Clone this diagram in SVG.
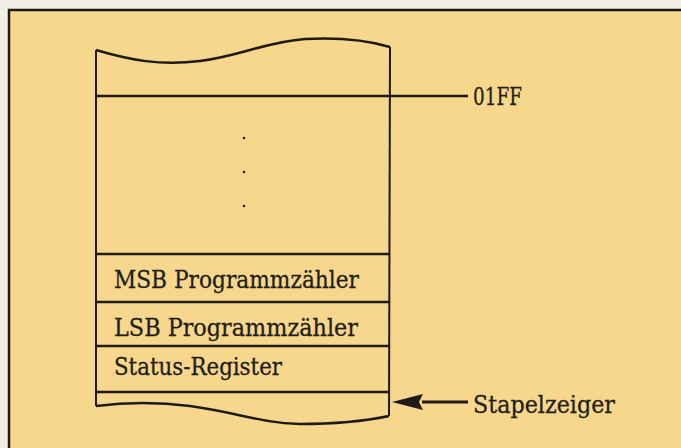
<svg xmlns="http://www.w3.org/2000/svg" width="681" height="448" viewBox="0 0 681 448">
<style>
.ln{stroke:#1e1a17;fill:none;stroke-linecap:butt}
.t{font-family:"DejaVu Serif","Liberation Serif",serif;font-size:24px;fill:#231e1a;stroke:#231e1a;stroke-width:0.3}
</style>
<rect x="0" y="0" width="681" height="448" fill="#f1eee6"/>
<rect x="9" y="10" width="672" height="438" fill="#f7d78c"/>
<g id="frame" class="ln" stroke-width="2.5">
<path d="M9,448 L9,10 L681,10"/>
</g>
<g id="stack">
<path class="ln" stroke-width="2.5" d="M96,50 C130,60 160,66 200,61 C240,56 265,42 305,39 C345,37 370,41 390,47"/>
<path class="ln" stroke-width="2" d="M96,50 L96,406"/>
<path class="ln" stroke-width="2" d="M390,47 L389,416"/>
<path class="ln" stroke-width="2.5" d="M96,406 C120,403 150,401 190,406 C240,413 260,423 300,424 C340,424 370,420 389,416"/>
<circle cx="244" cy="138" r="1.3" fill="#2a2420"/>
<circle cx="244" cy="172" r="1.3" fill="#2a2420"/>
<circle cx="244" cy="206" r="1.3" fill="#2a2420"/>
</g>
<g id="row-msb">
<line class="ln" stroke-width="2.5" x1="96" y1="254" x2="390" y2="254"/>
<text class="t" x="114" y="288" textLength="245" lengthAdjust="spacingAndGlyphs">MSB Programmzähler</text>
</g>
<g id="row-lsb">
<line class="ln" stroke-width="2.5" x1="96" y1="302" x2="390" y2="302"/>
<text class="t" x="114" y="336" textLength="244" lengthAdjust="spacingAndGlyphs">LSB Programmzähler</text>
</g>
<g id="row-status">
<line class="ln" stroke-width="2.5" x1="96" y1="346" x2="390" y2="346"/>
<text class="t" x="114" y="375" textLength="168" lengthAdjust="spacingAndGlyphs">Status-Register</text>
<line class="ln" stroke-width="2.5" x1="96" y1="392" x2="390" y2="392"/>
</g>
<g id="label-01ff">
<text class="t" x="473" y="105" textLength="49" lengthAdjust="spacingAndGlyphs">01FF</text>
</g>
<g id="label-stapelzeiger">
<text class="t" x="473" y="413" textLength="142" lengthAdjust="spacingAndGlyphs">Stapelzeiger</text>
</g>
<g id="connectors">
<line class="ln" stroke-width="2.5" x1="96" y1="96" x2="468" y2="96"/>
<line class="ln" stroke-width="3" x1="468" y1="402" x2="422" y2="402"/>
<path d="M392,402 L423,394 L419,402 L423,410 Z" fill="#1e1a17"/>
</g>
</svg>
